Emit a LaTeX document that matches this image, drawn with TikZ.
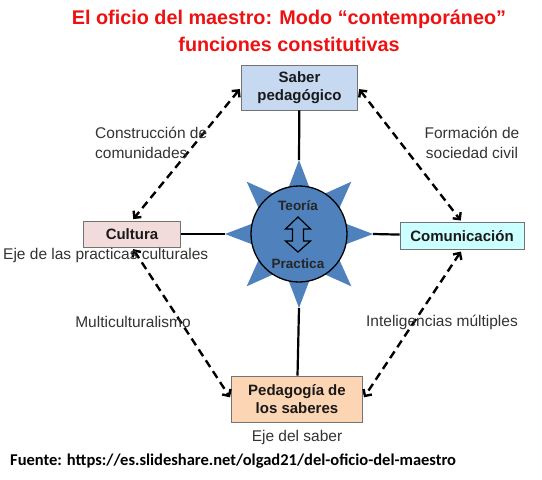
\documentclass[tikz,border=0pt]{standalone}
\usepackage{fontspec}
\setmainfont{Liberation Sans}
\newfontfamily\fuentefont{Carlito}
\usetikzlibrary{arrows.meta,calc,positioning}
\definecolor{sol}{HTML}{4F81BD}
\definecolor{azulcaja}{HTML}{C6D9F1}
\definecolor{rosacaja}{HTML}{F2DCDB}
\definecolor{cianocaja}{HTML}{CCFFFF}
\definecolor{naranjacaja}{HTML}{FCD5B4}
\definecolor{titulo}{HTML}{EE1111}
\definecolor{gristexto}{HTML}{333333}
\begin{document}
\begin{tikzpicture}[x=1pt,y=-1pt,
  caja/.style={draw=black!55, line width=0.8pt, align=center, inner sep=0pt,
    font=\fontsize{15}{18}\selectfont\bfseries, text=black!90},
  rotulo/.style={text=gristexto, font=\fontsize{15.5}{20}\selectfont, inner sep=0pt},
  eje/.style={line width=2.2pt},
  relacion/.style={line width=2.4pt, dash pattern=on 8pt off 5pt, {Straight Barb[length=5pt,width=10pt]}-{Straight Barb[length=5pt,width=10pt]}, shorten <=2pt, shorten >=2pt}]
  \useasboundingbox (0,0) rectangle (542,480);
  \node[text=titulo, align=center, font=\fontsize{19.8}{27}\selectfont\bfseries] (titulo) at (289,31)
    {El oficio del maestro: Modo “contemporáneo”\\funciones constitutivas};
  \node[caja, fill=azulcaja, minimum width=116pt, minimum height=45pt] (saber) at (299.5,87.5) {Saber\\pedagógico};
  \node[caja, fill=rosacaja, minimum width=97pt, minimum height=26pt] (cultura) at (132,234) {Cultura};
  \node[caja, fill=cianocaja, minimum width=124pt, minimum height=27pt] (comunicacion) at (462,236) {Comunicación};
  \node[caja, fill=naranjacaja, minimum width=131pt, minimum height=46pt] (pedagogia) at (297,399) {Pedagogía de\\los saberes};
  \coordinate (centro) at (299,234);
  \coordinate (puntaN) at (299,160);
  \coordinate (puntaS) at (299,308);
  \coordinate (puntaO) at (225,234);
  \coordinate (puntaE) at (373,234);
  \draw[eje] (saber) -- (puntaN);
  \draw[eje] (cultura) -- (puntaO);
  \draw[eje] (puntaE) -- (comunicacion);
  \draw[eje] (puntaS) -- (pedagogia);
  \foreach \a in {0,45,...,315}
    \fill[sol] ($(centro)+(\a:74)$) -- ($(centro)+(\a+14:46)$) -- ($(centro)+(\a-14:46)$) -- cycle;
  \node[circle, draw, fill=sol, line width=1.3pt, minimum size=96pt] (nucleo) at (centro) {};
  \draw[fill=sol, line width=1.2pt, line join=miter]
    (298,217) -- (310.5,229) -- (303.5,229) -- (303.5,241) -- (310.5,241) -- (298,252)
    -- (285.5,241) -- (292.5,241) -- (292.5,229) -- (285.5,229) -- cycle;
  \node[font=\fontsize{13.5}{15}\selectfont\bfseries, text=black!85] (teoria) at (298,206) {Teoría};
  \node[font=\fontsize{13.5}{15}\selectfont\bfseries, text=black!85] (practica) at (298,264) {Practica};
  \draw[relacion] (saber.west) -- (cultura.north);
  \draw[relacion] (saber.east) -- (comunicacion.north);
  \draw[relacion] (cultura.south) -- (pedagogia.west);
  \draw[relacion] (comunicacion.south) -- (pedagogia.east);
  \node[rotulo, anchor=west, align=left] (comunidades) at (95,143) {Construcción de\\comunidades};
  \node[rotulo, align=center] (sociedad) at (472,143) {Formación de\\sociedad civil};
  \node[rotulo, anchor=west] (practicas) at (3,255) {Eje de las practicas culturales};
  \node[rotulo] (multi) at (133,322) {Multiculturalismo};
  \node[rotulo] (inteligencias) at (442,322) {Inteligencias múltiples};
  \node[rotulo] (ejesaber) at (297,437) {Eje del saber};
  \node[anchor=west, inner sep=0pt, font=\fuentefont\fontsize{16.5}{18}\selectfont\bfseries] (fuente) at (10,461)
    {Fuente: https://es.slideshare.net/olgad21/del-oficio-del-maestro};
\end{tikzpicture}
\end{document}
